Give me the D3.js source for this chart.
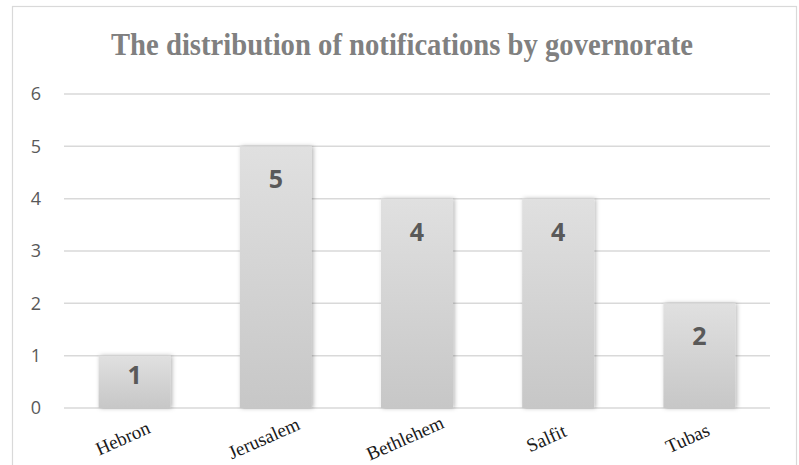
<!DOCTYPE html>
<html>
<head>
<meta charset="utf-8">
<script src="https://cdn.jsdelivr.net/npm/d3@7"></script>
<style>
  body { margin: 0; background: #fff; }
  svg { display: block; }
</style>
</head>
<body>
<div id="chart"></div>
<script>
const governorates = ['Hebron', 'Jerusalem', 'Bethlehem', 'Salfit', 'Tubas'];
const notifications = [1, 5, 4, 4, 2];
const yTicks = [0, 1, 2, 3, 4, 5, 6];
const chartTitle = 'The distribution of notifications by governorate';

const width = 799, height = 465;
const plot = { left: 64, right: 770, top: 94, bottom: 408 };

const svg = d3.select('#chart').append('svg')
    .attr('width', width)
    .attr('height', height);

const defs = svg.append('defs');

const grad = defs.append('linearGradient')
    .attr('id', 'barGrad')
    .attr('x1', 0).attr('y1', 0).attr('x2', 0).attr('y2', 1);
grad.append('stop').attr('offset', '0%').attr('stop-color', '#e0e0e0');
grad.append('stop').attr('offset', '100%').attr('stop-color', '#c7c7c7');

const shadow = defs.append('filter')
    .attr('id', 'barShadow')
    .attr('x', '-20%').attr('y', '-10%')
    .attr('width', '140%').attr('height', '120%');
shadow.append('feDropShadow')
    .attr('dx', 1.5).attr('dy', 0)
    .attr('stdDeviation', 2)
    .attr('flood-color', '#000')
    .attr('flood-opacity', 0.3);

// chart frame
svg.append('rect')
    .attr('x', 12.5).attr('y', 6.5)
    .attr('width', 784).attr('height', 480)
    .attr('fill', '#fff')
    .attr('stroke', '#d9d9d9')
    .attr('stroke-width', 1.2);

const x = d3.scaleBand()
    .domain(governorates)
    .range([plot.left, plot.right])
    .paddingInner(0.49)
    .paddingOuter(0.245);

const y = d3.scaleLinear()
    .domain([0, 6])
    .range([plot.bottom, plot.top]);

// gridlines
svg.append('g')
    .selectAll('line')
    .data(yTicks)
    .enter().append('line')
    .attr('x1', plot.left).attr('x2', plot.right)
    .attr('y1', d => y(d)).attr('y2', d => y(d))
    .attr('stroke', '#d9d9d9')
    .attr('stroke-width', 1.5);

// y axis labels
const yAxis = svg.append('g')
    .attr('transform', `translate(${plot.left - 23},0)`)
    .call(d3.axisLeft(y).tickValues(yTicks).tickSize(0).tickPadding(0).tickFormat(d3.format('d')));
yAxis.select('.domain').remove();
yAxis.selectAll('text')
    .attr('font-family', '"Open Sans", sans-serif')
    .attr('font-size', 18)
    .attr('fill', '#595959');

// bars
svg.append('g')
    .selectAll('rect')
    .data(governorates)
    .enter().append('rect')
    .attr('x', d => x(d))
    .attr('y', (d, i) => y(notifications[i]))
    .attr('width', x.bandwidth())
    .attr('height', (d, i) => y(0) - y(notifications[i]))
    .attr('fill', 'url(#barGrad)')
    .attr('filter', 'url(#barShadow)');

// value labels
svg.append('g')
    .selectAll('text')
    .data(governorates)
    .enter().append('text')
    .attr('x', d => x(d) + x.bandwidth() / 2)
    .attr('y', (d, i) => Math.min(y(notifications[i]) + 33, y(0) - 33))
    .attr('dy', '0.36em')
    .attr('text-anchor', 'middle')
    .attr('font-family', '"Open Sans", sans-serif')
    .attr('font-weight', 700)
    .attr('font-size', 25)
    .attr('fill', '#595959')
    .text((d, i) => notifications[i]);

// x axis labels (rotated)
svg.append('g')
    .selectAll('text')
    .data(governorates)
    .enter().append('text')
    .attr('transform', d => `translate(${x(d) + x.bandwidth() / 2 - 12},438) rotate(-24)`)
    .attr('dy', '0.35em')
    .attr('text-anchor', 'middle')
    .attr('font-family', '"Liberation Serif", serif')
    .attr('font-size', 19)
    .attr('fill', '#1a1a1a')
    .text(d => d);

// title
svg.append('text')
    .attr('x', 402)
    .attr('y', 55)
    .attr('text-anchor', 'middle')
    .attr('font-family', '"Liberation Serif", serif')
    .attr('font-weight', 700)
    .attr('font-size', 31)
    .attr('textLength', 582)
    .attr('lengthAdjust', 'spacingAndGlyphs')
    .attr('fill', '#808080')
    .text(chartTitle);
</script>
</body>
</html>
